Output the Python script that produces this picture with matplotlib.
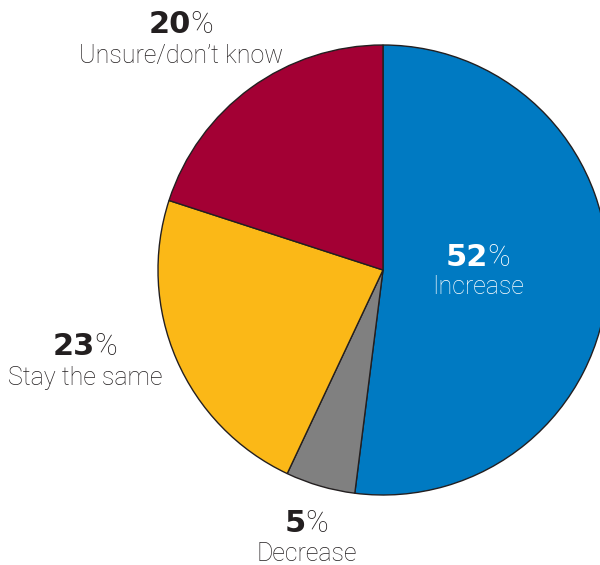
import matplotlib
matplotlib.use("Agg")
import matplotlib.pyplot as plt

# Share of answers, clockwise from 12 o'clock
labels = ["Increase", "Decrease", "Stay the same", "Unsure/don\u2019t know"]
values = [52, 5, 23, 20]
colors = ["#007ac2", "#808080", "#fbb817", "#a30034"]

# Label anchors (pixel coords, top-left origin) and text colour
label_pos = [(478, 266, 294), (307, 532, 561), (85, 355, 385), (181, 33, 63)]
label_col = ["white", "#231f20", "#231f20", "#231f20"]

W, H = 600, 565
fig = plt.figure(figsize=(W/100, H/100), dpi=100)
ax = fig.add_axes([0, 0, 1, 1])

ax.pie(values, colors=colors, startangle=90, counterclock=False,
    center=(383, H - 270), radius=225, frame=True,
    wedgeprops=dict(edgecolor='#231f20', linewidth=1.0))
ax.set_xlim(0, W)
ax.set_ylim(0, H)
ax.set_aspect('equal')
ax.axis('off')

renderer = fig.canvas.get_renderer()

def pctText(x, y, num, color):
    """ Bold number followed by a light percent sign, centred on x. """
    t1 = ax.text(0, H - y, str(num), fontsize=22, fontweight='bold', family='DejaVu Sans',
        color=color, ha='left', va='baseline')
    t2 = ax.text(0, H - y, "%", fontsize=22, fontweight='light', family='Roboto',
        color=color, ha='left', va='baseline')
    w1 = t1.get_window_extent(renderer).width
    w2 = t2.get_window_extent(renderer).width
    x0 = x - (w1 + w2)/2
    t1.set_x(x0)
    t2.set_x(x0 + w1 - 1)


for lbl, val, (x, y_num, y_lbl), col in zip(labels, values, label_pos, label_col):
    pctText(x, y_num, val, col)
    ax.text(x, H - y_lbl, lbl, fontsize=18, fontweight='light', family='Roboto',
        color=col, ha='center', va='baseline')

plt.savefig("out.png", dpi=100)
